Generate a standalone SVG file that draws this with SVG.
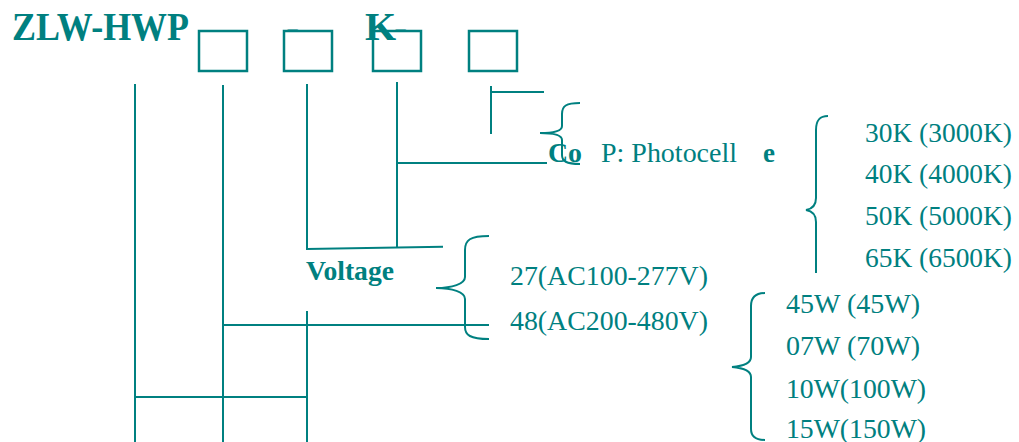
<svg xmlns="http://www.w3.org/2000/svg" width="1019" height="442" viewBox="0 0 1019 442">
<style>
.t{font-family:"Liberation Serif","Times New Roman",serif;fill:#008080;font-size:27px}
.b{font-weight:bold}
.big{font-size:40px}
.ln{stroke:#008080;stroke-width:2;fill:none}
.bx{stroke:#008080;stroke-width:2.5;fill:#fff}
</style>
<rect width="1019" height="442" fill="#fff"/>
<g id="title">
<text class="t b big" x="12" y="40" textLength="177" lengthAdjust="spacingAndGlyphs">ZLW-HWP</text>
<text class="t b big" x="286" y="40.5">-</text>
<text class="t b big" x="394" y="40.5">-</text>
</g>
<g id="box1"><rect class="bx" x="199" y="31" width="48" height="40"/></g>
<g id="box2"><rect class="bx" x="284" y="31" width="48" height="40"/></g>
<g id="box3"><rect class="bx" x="373" y="31" width="48" height="40"/></g>
<g id="box4"><rect class="bx" x="469" y="31" width="48" height="40"/></g>
<g id="title-k">
<text class="t b big" x="365" y="40">K</text>
</g>
<g id="connectors" class="ln">
<path d="M135 84V442"/>
<path d="M223 85V442"/>
<path d="M307 84V249L443 246.7"/>
<path d="M397 82V247"/>
<path d="M397 163H547"/>
<path d="M491 86V134M491 92H544"/>
<path d="M223 325H489"/>
<path d="M307 311V442"/>
<path d="M135 397H307"/>
</g>
<g id="brace-option" class="ln">
<path d="M580 103C566 103 562 106 562 114V126C562 131 554 133 540 133C554 133 562 135 562 140V155C562 161 566 164 580 164"/>
</g>
<g id="brace-voltage" class="ln">
<path d="M489 236C470 236 465 240 465 250V277C465 284 452 288 436 288C452 288 465 292 465 299V327C465 335 470 339 489 339"/>
</g>
<g id="brace-cct" class="ln">
<path d="M828 116C819 116 816 121 816 130V198C816 205 812 209 806 210C812 211 816 215 816 222V273"/>
</g>
<g id="brace-power" class="ln">
<path d="M765 293C755 293 751 298 751 306V357C751 363 744 366 732 367C744 368 751 371 751 377V429C751 436 755 440 765 440"/>
</g>
<g id="labels">
<text class="t b" x="548" y="162" textLength="34" lengthAdjust="spacingAndGlyphs">Co</text>
<text class="t" x="601" y="162" textLength="136" lengthAdjust="spacingAndGlyphs">P: Photocell</text>
<text class="t b" x="763" y="162">e</text>
<text class="t b" x="306" y="280" textLength="88" lengthAdjust="spacingAndGlyphs">Voltage</text>
</g>
<g id="voltage-options">
<text class="t" x="510" y="285" textLength="198" lengthAdjust="spacingAndGlyphs">27(AC100-277V)</text>
<text class="t" x="510" y="330" textLength="198" lengthAdjust="spacingAndGlyphs">48(AC200-480V)</text>
</g>
<g id="cct-options">
<text class="t" x="865" y="142" textLength="147" lengthAdjust="spacingAndGlyphs">30K (3000K)</text>
<text class="t" x="865" y="183" textLength="147" lengthAdjust="spacingAndGlyphs">40K (4000K)</text>
<text class="t" x="865" y="225" textLength="147" lengthAdjust="spacingAndGlyphs">50K (5000K)</text>
<text class="t" x="865" y="267" textLength="147" lengthAdjust="spacingAndGlyphs">65K (6500K)</text>
</g>
<g id="power-options">
<text class="t" x="786" y="313" textLength="134" lengthAdjust="spacingAndGlyphs">45W (45W)</text>
<text class="t" x="786" y="355" textLength="134" lengthAdjust="spacingAndGlyphs">07W (70W)</text>
<text class="t" x="786" y="398" textLength="140" lengthAdjust="spacingAndGlyphs">10W(100W)</text>
<text class="t" x="786" y="438" textLength="140" lengthAdjust="spacingAndGlyphs">15W(150W)</text>
</g>
</svg>
